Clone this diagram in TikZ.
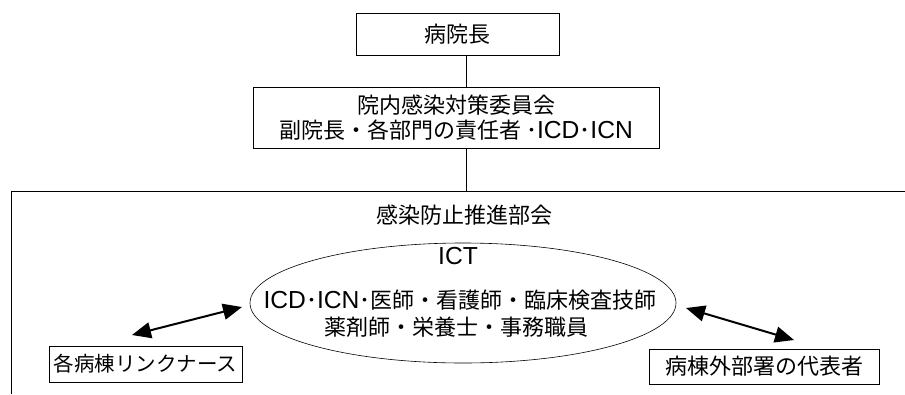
\documentclass[tikz,border=0pt]{standalone}
\usepackage{fontspec}
\setmainfont{Noto Sans CJK JP}
\newfontfamily\lat[Scale=1.12]{Liberation Sans}
\usetikzlibrary{shapes.geometric,arrows.meta}
\begin{document}
\begin{tikzpicture}[x=1pt,y=-1pt,
  box/.style={draw=black,line width=0.8pt,rectangle,inner sep=0pt,align=center},
  lbl/.style={inner sep=0pt,align=center},
  conn/.style={line width=0.8pt},
  dbl/.style={line width=2pt,{Triangle[length=19pt,width=16pt]}-{Triangle[length=19pt,width=16pt]}},
  font=\fontsize{22}{25}\selectfont]
\useasboundingbox (0,0) rectangle (905,394);
\node[box,minimum width=203pt,minimum height=42pt] (top) at (457.5,34) {病院長};
\node[box,minimum width=406pt,minimum height=61pt] (mid) at (456,117.5) {院内感染対策委員会\\副院長・各部門の責任者 ･{\lat ICD}･{\lat ICN}};
\coordinate (ftl) at (11,191);
\coordinate (ftr) at (905,191);
\coordinate (fbl) at (11,394);
\coordinate (vx) at (466,0);
\draw[conn] (fbl) -- (ftl) -- (ftr);
\draw[conn] (top.south -| vx) -- (mid.north -| vx);
\draw[conn] (mid.south -| vx) -- (ftl -| vx);
\node[lbl] (sub) at (464,215) {感染防止推進部会};
\node[draw=black,line width=0.6pt,ellipse,minimum width=426pt,minimum height=120pt,inner sep=0pt] (ict) at (463,303) {};
\node[lbl] (ictt) at (458,256) {\lat ICT};
\node[lbl] (ictl2) at (460,300) {{\lat ICD}･{\lat ICN}･医師・看護師・臨床検査技師};
\node[lbl] (ictl3) at (456,327) {薬剤師・栄養士・事務職員};
\node[box,minimum width=193pt,minimum height=36pt] (left) at (145.5,364) {\fontsize{20.5}{25}\selectfont 各病棟リンクナース};
\node[box,minimum width=230pt,minimum height=35pt] (right) at (764,366.5) {病棟外部署の代表者};
\coordinate (la1) at (132,335);
\coordinate (la2) at (242,307);
\coordinate (ra1) at (686,308);
\coordinate (ra2) at (794,340);
\draw[dbl] (la1) -- (la2);
\draw[dbl] (ra1) -- (ra2);
\end{tikzpicture}
\end{document}
